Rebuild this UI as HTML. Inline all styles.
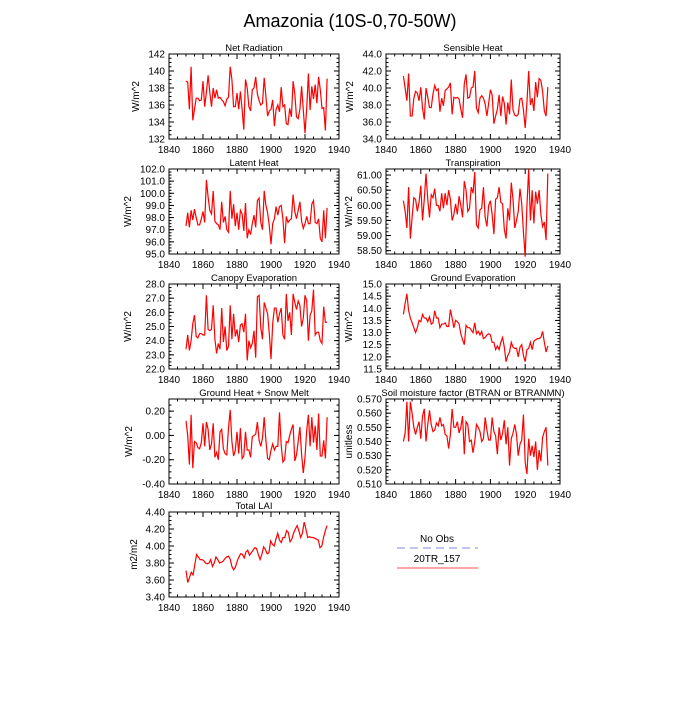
<!DOCTYPE html>
<html><head><meta charset="utf-8"><style>
body{margin:0;background:#fff}
svg text{font-family:"Liberation Sans",sans-serif;fill:#000}
</style></head><body>
<svg id="c" width="700" height="700" xmlns="http://www.w3.org/2000/svg">
<text x="350" y="27" font-size="18" text-anchor="middle">Amazonia (10S-0,70-50W)</text>
<g>
<text x="437" y="542" font-size="10" text-anchor="middle">No Obs</text>
<line x1="397" y1="548" x2="478" y2="548" stroke="#aab0ee" stroke-width="1.5" stroke-dasharray="8,5"/>
<text x="437" y="562" font-size="10" text-anchor="middle">20TR_157</text>
<line x1="397" y1="568" x2="478" y2="568" stroke="#f88" stroke-width="1.5"/>
</g>
</svg>
<script>
const netRad=[138.8,138.7,135.5,140.5,134.2,135.5,136.8,136.8,136.5,136.6,138.8,135.8,137.5,139.5,137.5,135.8,138,136.8,137.8,136.8,136.9,136.6,136.4,135.9,136.7,136.9,140.5,139,135.8,135.8,137.4,135.5,137.6,135.5,133.1,139,138,135.8,135.3,137.8,138,139.3,137.3,136.5,136,136.2,139.2,137,134.7,135.3,135.5,136.6,133.5,135.5,136,135.2,138.1,135.8,136,133.8,133.7,135.6,134.6,138.8,137.3,134.6,134.4,135.5,138.2,135.4,132.7,135.6,139.7,135.4,138.2,136.7,138.4,136.2,139.3,137.8,135.6,135.7,133,139.1];
const sensHeat=[41.4,40,38.5,41.7,36.7,36.7,38.8,39.6,39.4,38.5,40.1,37.6,36.3,40,38.9,37.7,37.7,39.3,40.3,39.7,39.9,37.2,38.8,37.9,39.7,39.9,40.1,40.6,36.9,38.9,38.8,38.9,38.7,37.5,36.5,40.5,41.6,38.8,38.9,40,40.1,42,37.6,37.1,38.8,39.1,38.8,38.1,36.7,38.2,39.8,39.2,35.8,36.7,37.5,39.2,36.7,39,38.2,35.7,38.3,36.9,41,37.4,36.8,36.7,36.9,38.7,38.8,37.4,35.3,38.3,42,38,38.8,37.3,40.7,38.9,41.1,40.9,39.6,37.3,36.7,40.1];
const latHeat=[97.3,98.4,97.2,98.6,97.8,98.7,98,97.4,97.4,97.9,98.5,97.6,101.1,99.7,98.6,98.3,100.2,97.7,97.5,97.4,97,99.3,97.6,98.1,97,96.8,100.2,97.9,99.1,97.3,98.4,97,98.6,98.3,96.9,99.2,96.3,97,96.6,97.5,98.2,97.2,99.4,99.6,97.6,97,100.2,99,98.4,97.3,95.8,97.5,97.9,98.9,98.2,98.9,99,97.9,95.9,98.1,97.6,97.8,97.9,99.9,98.5,97.9,98.6,99.3,97.7,97.1,97.5,98.1,97.5,97.5,99.1,99.4,97.6,97.5,97.9,96.3,96,98.6,96.3,98.8];
const transp=[60.15,59.8,59.25,60.6,58.9,59.6,60.25,60.2,59.8,60.1,60.65,59.5,60.2,61.05,60.2,59.6,60.35,60.25,60.55,60,60,59.8,60.4,59.9,60.4,60,60.5,60.2,59.5,59.7,60.05,59.7,60.3,60,59.6,60.8,60.5,59.8,59.9,60.6,60.4,61.1,59.35,59.25,59.85,59.9,60.6,59.6,59.3,60,60.15,59.7,59.05,60.2,60.25,60.6,60.1,60.05,59.2,58.9,59.9,59.5,60.75,60.2,59.25,59.5,59.8,60.55,60.05,59.1,58.3,60,61.2,59.5,60.5,59.4,60.45,60.05,60.5,59.7,59.3,59.45,58.85,61.05];
const canopy=[23.4,24.4,23.3,24,25.2,25.8,24.3,24.2,24.5,24.5,24.4,24.4,27.2,24.8,24.7,24.8,26.5,24.1,23.1,23.8,23.4,26.3,23.9,25,23.3,23.6,26.5,24.1,25.9,24.3,24.8,23.9,25.1,25.2,24.6,25.9,22.6,24,23.5,23.8,24.7,22.8,27.1,27.2,24.9,24.1,26.7,26.3,25.9,24.5,22.7,25.2,26.3,26.3,25.3,25.9,26.3,24.4,24.1,27.3,25.4,26,24.4,27.3,26.7,26.2,26.8,26.5,25,25.6,27.2,26.8,24,25.8,26.1,27.6,24.4,24.6,24.6,24,23.8,26.4,25.3,25.3];
const groundEvap=[13.75,14.2,14.6,13.9,13.6,13.4,13.2,13,13.2,13.5,13.45,13.75,13.6,13.6,13.45,13.65,13.35,13.4,13.9,13.6,13.6,13.2,13.35,13.35,13.4,13.25,13.25,13.95,13.6,13.2,13.5,13.45,13.35,12.95,12.7,12.5,13.3,13.2,13.2,13.1,13,13.4,12.95,13.05,12.9,13.05,12.75,12.8,12.9,12.95,12.9,12.6,12.6,12.3,12.45,12.3,12.6,12.8,12.4,11.8,12.05,12.2,12.6,12.4,12.35,12.35,12,12.4,12.5,12.05,11.8,12.3,12.35,12.6,12.3,12.65,12.7,12.75,12.75,12.8,13.05,12.6,12.2,12.45];
const groundHeat=[0.12,0,-0.24,0.17,-0.27,-0.05,-0.06,-0.1,-0.11,-0.06,0.1,-0.09,0.11,0.05,-0.12,-0.07,0.1,-0.18,-0.14,-0.2,0.03,0.05,-0.11,-0.15,-0.16,0.06,0.21,-0.05,-0.17,-0.12,0.03,-0.15,0.06,-0.19,-0.17,0.03,-0.12,-0.12,-0.18,-0.01,0,0.01,0.11,-0.04,-0.09,-0.02,0.15,-0.04,-0.19,-0.2,-0.12,-0.07,-0.12,-0.09,-0.09,0.19,-0.08,-0.22,-0.2,-0.05,-0.06,0,0.05,0.09,-0.21,-0.16,-0.05,0.07,-0.16,-0.31,-0.18,0.04,0.17,-0.09,0.15,-0.06,0.08,-0.12,0.18,-0.17,-0.17,-0.04,-0.19,0.15];
const soilMoist=[0.540,0.546,0.568,0.540,0.568,0.560,0.550,0.545,0.550,0.554,0.542,0.558,0.563,0.540,0.552,0.562,0.552,0.547,0.548,0.553,0.551,0.557,0.551,0.552,0.545,0.544,0.535,0.545,0.563,0.550,0.550,0.554,0.546,0.550,0.558,0.531,0.554,0.552,0.540,0.541,0.532,0.540,0.552,0.550,0.547,0.540,0.542,0.557,0.548,0.541,0.541,0.557,0.547,0.544,0.531,0.550,0.541,0.546,0.555,0.538,0.550,0.523,0.542,0.546,0.552,0.545,0.530,0.538,0.541,0.559,0.525,0.517,0.542,0.530,0.537,0.529,0.540,0.520,0.534,0.526,0.543,0.547,0.550,0.523];
const lai=[3.71,3.57,3.63,3.69,3.66,3.78,3.9,3.87,3.84,3.84,3.83,3.80,3.79,3.80,3.84,3.76,3.80,3.87,3.84,3.80,3.81,3.82,3.85,3.87,3.88,3.85,3.76,3.72,3.75,3.82,3.87,3.91,3.90,3.86,3.93,3.95,3.89,3.92,3.95,3.98,3.97,3.90,3.84,3.90,3.99,3.96,3.91,3.92,4.06,4.02,4.0,4.08,4.15,4.07,4.04,4.10,4.10,4.18,4.16,4.05,4.08,4.15,4.20,4.24,4.18,4.10,4.15,4.28,4.20,4.10,4.11,4.10,4.10,4.09,4.08,4.07,3.98,4.0,4.10,4.18,4.24];
const yearTicks=[1840,1860,1880,1900,1920,1940];
const startYear=1850, endYear=1933;

const panels=[
 {name:'net-radiation',title:'Net Radiation',unit:'W/m^2',d:netRad,lo:132,hi:142,t:[132,134,136,138,140,142],dec:0,yo:34,x0:169,x1:339,y0:54,y1:139},
 {name:'sensible-heat',title:'Sensible Heat',unit:'W/m^2',d:sensHeat,lo:34,hi:44,t:[34,36,38,40,42,44],dec:1,yo:37,x0:386,x1:560,y0:54,y1:139},
 {name:'latent-heat',title:'Latent Heat',unit:'W/m^2',d:latHeat,lo:95,hi:102,t:[95,96,97,98,99,100,101,102],dec:1,yo:42,x0:169,x1:339,y0:169,y1:254},
 {name:'transpiration',title:'Transpiration',unit:'W/m^2',d:transp,lo:58.39,hi:61.2,t:[58.5,59,59.5,60,60.5,61],dec:2,yo:38,x0:386,x1:560,y0:169,y1:254},
 {name:'canopy-evaporation',title:'Canopy Evaporation',unit:'W/m^2',d:canopy,lo:22,hi:28,t:[22,23,24,25,26,27,28],dec:1,yo:42,x0:169,x1:339,y0:284,y1:369},
 {name:'ground-evaporation',title:'Ground Evaporation',unit:'W/m^2',d:groundEvap,lo:11.5,hi:15,t:[11.5,12,12.5,13,13.5,14,14.5,15],dec:1,yo:38,x0:386,x1:560,y0:284,y1:369},
 {name:'ground-heat',title:'Ground Heat + Snow Melt',unit:'W/m^2',d:groundHeat,lo:-0.4,hi:0.3,t:[-0.4,-0.2,0,0.2],dec:2,yo:41,x0:169,x1:339,y0:399,y1:484},
 {name:'soil-moisture',title:'Soil moisture factor (BTRAN or BTRANMN)',unit:'unitless',d:soilMoist,lo:0.51,hi:0.57,t:[0.51,0.52,0.53,0.54,0.55,0.56,0.57],dec:3,yo:38,x0:386,x1:560,y0:399,y1:484},
 {name:'total-lai',title:'Total LAI',unit:'m2/m2',d:lai,lo:3.4,hi:4.4,t:[3.4,3.6,3.8,4.0,4.2,4.4],dec:2,yo:36,x0:169,x1:339,y0:512,y1:597}
];
const NS='http://www.w3.org/2000/svg';
const svg=document.getElementById('c');
function mk(tag,attrs,parent){const e=document.createElementNS(NS,tag);for(const k in attrs)e.setAttribute(k,attrs[k]);(parent||svg).appendChild(e);return e;}
panels.forEach(p=>{
 const g=mk('g',{});
 
 
 const xs=v=>p.x0+(v-1840)/100*(p.x1-p.x0);
 const ys=v=>p.y1-(v-p.lo)/(p.hi-p.lo)*(p.y1-p.y0);
 const fr=mk('rect',{x:p.x0,y:p.y0,width:p.x1-p.x0,height:p.y1-p.y0,fill:'none',stroke:'#000','stroke-width':1},g);
 
 
 yearTicks.forEach(yr=>{
  const x=xs(yr);
  mk('line',{x1:x,y1:p.y1,x2:x,y2:p.y1-5,stroke:'#000'},g);
  mk('line',{x1:x,y1:p.y0,x2:x,y2:p.y0+5,stroke:'#000'},g);
  const t=mk('text',{x:x,y:p.y1+14,'font-size':10,'text-anchor':'middle'},g);
  t.textContent=yr;
  
  
 });
 for(let yr=1845;yr<1940;yr+=5){if(yr%20===0)continue;const x=xs(yr);mk('line',{x1:x,y1:p.y1,x2:x,y2:p.y1-2.5,stroke:'#000'},g);mk('line',{x1:x,y1:p.y0,x2:x,y2:p.y0+2.5,stroke:'#000'},g);}
 const step=p.t[1]-p.t[0];
 for(let v=p.t[0]-step;v<=p.hi+1e-9;v+=step/4){if(v<p.lo-1e-9)continue;const y=ys(v);mk('line',{x1:p.x0,y1:y,x2:p.x0+2.5,y2:y,stroke:'#000'},g);mk('line',{x1:p.x1,y1:y,x2:p.x1-2.5,y2:y,stroke:'#000'},g);}
 p.t.forEach(v=>{
  const y=ys(v);
  mk('line',{x1:p.x0,y1:y,x2:p.x0+5,y2:y,stroke:'#000'},g);
  mk('line',{x1:p.x1,y1:y,x2:p.x1-5,y2:y,stroke:'#000'},g);
  const t=mk('text',{x:p.x0-4,y:y+3.5,'font-size':10,'text-anchor':'end'},g);
  t.textContent=v.toFixed(p.dec);
  
  
 });
 const tt=mk('text',{x:(p.x0+p.x1)/2,y:p.y0-3,'font-size':9.5,'text-anchor':'middle'},g);
 tt.textContent=p.title;
 
 
 const yl=mk('text',{x:0,y:0,'font-size':10,'text-anchor':'middle',transform:`translate(${p.x0-p.yo+4},${(p.y0+p.y1)/2}) rotate(-90)`},g);
 yl.textContent=p.unit;
 
 
 const n=p.d.length;
 const pts=p.d.map((v,i)=>xs(startYear+i*(endYear-startYear)/(n-1)).toFixed(2)+','+ys(v).toFixed(2)).join(' ');
 const pl=mk('polyline',{points:pts,fill:'none',stroke:'#f00','stroke-width':1.2},g);
 
 
});
</script>
</body></html>
